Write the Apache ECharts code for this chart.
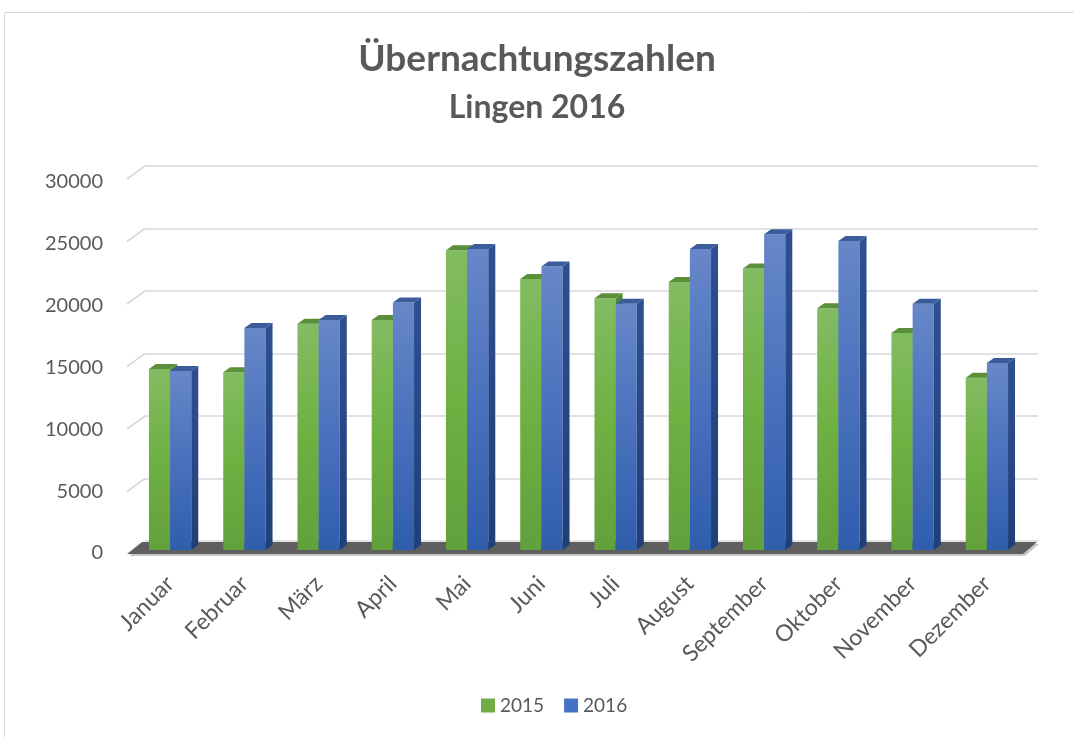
<!DOCTYPE html>
<html>
<head>
<meta charset="utf-8">
<script src="https://cdn.jsdelivr.net/npm/echarts@6/dist/echarts.min.js"></script>
<style>html,body{margin:0;padding:0;background:#fff;}#c{width:1074px;height:737px;}</style>
</head>
<body>
<div id="c"></div>
<script>
const months = ['Januar','Februar','März','April','Mai','Juni','Juli','August','September','Oktober','November','Dezember'];
const values2015 = [14550, 14300, 18200, 18500, 24100, 21800, 20250, 21550, 22650, 19450, 17450, 13850];
const values2016 = [14400, 17850, 18500, 19900, 24200, 22800, 19800, 24200, 25400, 24850, 19800, 15050];
const yTicks = [0, 5000, 10000, 15000, 20000, 25000, 30000];
const seriesNames = ['2015', '2016'];

const chart = echarts.init(document.getElementById('c'));
const txt = '#595959';
const FONT = 'Lato, "Open Sans", sans-serif';

const palette = {
  '2015': {front: ['#82bc62', '#6fb043', '#62a03c'], side: ['#55863a', '#4a772f'], top: '#5b8f3a'},
  '2016': {front: ['#6787c8', '#4a71bd', '#2f5ead'], side: ['#2f5090', '#1f3f78'], top: '#3a5c9a'}
};

function barRender(name, offsetSign) {
  return function (params, api) {
    const i = api.value(0), v = api.value(1);
    const top = api.coord([i, v]);
    const bot = api.coord([i, 0]);
    const band = api.size([1, 0])[0];
    const w = band * 0.285;
    const x0 = offsetSign < 0 ? top[0] - w : top[0];
    const x1 = x0 + w;
    const yT = top[1], yB = bot[1];
    const dx = 7, dy = 5;
    const p = palette[name];
    return {
      type: 'group',
      children: [
        {type: 'rect', shape: {x: x0, y: yT, width: w, height: yB - yT},
          style: {fill: new echarts.graphic.LinearGradient(0, 0, 0, 1, [
            {offset: 0, color: p.front[0]}, {offset: 0.5, color: p.front[1]}, {offset: 1, color: p.front[2]}])}},
        {type: 'polygon', shape: {points: [[x1, yT], [x1 + dx, yT - dy], [x1 + dx, yB - dy], [x1, yB]]},
          style: {fill: new echarts.graphic.LinearGradient(0, 0, 0, 1, [
            {offset: 0, color: p.side[0]}, {offset: 1, color: p.side[1]}])}},
        {type: 'polygon', shape: {points: [[x0, yT], [x1, yT], [x1 + dx, yT - dy], [x0 + dx, yT - dy]]},
          style: {fill: p.top}}
      ]
    };
  };
}

const option = {
  backgroundColor: '#fff',
  animation: false,
  title: [
    {text: 'Übernachtungszahlen', left: 'center', top: 36, padding: [5, 5, 5, 25],
      textStyle: {fontFamily: FONT, fontWeight: 'bold', fontSize: 37, color: txt}},
    {text: 'Lingen 2016', left: 'center', top: 87, padding: [5, 5, 5, 25],
      textStyle: {fontFamily: FONT, fontWeight: 'bold', fontSize: 32, color: txt}}
  ],
  legend: {
    data: seriesNames, top: 691, left: 476, icon: 'rect', itemWidth: 14, itemHeight: 14, itemGap: 20, itemStyle: {borderWidth: 0},
    textStyle: {fontFamily: FONT, fontSize: 19, color: txt}
  },
  graphic: [
    {type: 'rect', shape: {x: 4.5, y: 12.5, width: 1090, height: 740}, style: {fill: 'none', stroke: '#d9d9d9', lineWidth: 1}, z: -10}
  ],
  grid: [
    {left: 133, right: 50, top: 177, bottom: 187},
    {left: 145, right: 36, top: 166, bottom: 196},
    {left: 110, width: 10, top: 182, bottom: 184}
  ],
  xAxis: [
    {type: 'category', gridIndex: 0, data: months,
      axisLine: {show: false}, axisTick: {show: false},
      axisLabel: {rotate: 45, margin: 30, fontFamily: FONT, fontSize: 23, color: txt, interval: 0}},
    {type: 'category', gridIndex: 1, data: months, show: false},
    {type: 'category', gridIndex: 2, data: months, show: false}
  ],
  yAxis: [
    {type: 'value', gridIndex: 0, min: 0, max: 30000, interval: 5000, show: false, splitLine: {show: false}},
    {type: 'value', gridIndex: 1, min: 0, max: 30000, interval: 5000,
      axisLine: {show: false}, axisTick: {show: false}, axisLabel: {show: false},
      splitLine: {show: true, lineStyle: {color: '#d9d9d9', width: 1.6}}},
    {type: 'value', gridIndex: 2, min: 0, max: 30000, interval: 5000,
      axisLine: {show: false}, axisTick: {show: false}, splitLine: {show: false},
      axisLabel: {margin: 7, fontFamily: FONT, fontSize: 20, color: txt, formatter: v => String(v)}}
  ],
  series: [
    {
      type: 'custom', name: 'sidewall', xAxisIndex: 1, yAxisIndex: 1, silent: true, z: 1,
      data: yTicks.slice(1).map(v => [0, v]),
      renderItem: function (params, api) {
        const cs = params.coordSys;
        const y = api.coord([0, api.value(1)])[1];
        return {type: 'line', shape: {x1: cs.x, y1: y, x2: cs.x - 18, y2: y + 13},
          style: {stroke: '#d9d9d9', lineWidth: 1.6}};
      }
    },
    {
      type: 'custom', name: 'floor', xAxisIndex: 0, yAxisIndex: 0, silent: true, z: 2,
      data: [[0, 0]],
      renderItem: function (params, api) {
        const cs = params.coordSys;
        const y0 = api.coord([0, 0])[1];
        return {
          type: 'group', children: [
            {type: 'polygon', shape: {points: [[cs.x - 4, y0 + 6], [cs.x + cs.width + 1, y0 + 6], [cs.x + cs.width + 15, y0 - 6], [cs.x + 11, y0 - 6]]},
              style: {fill: '#c8c8c8'}},
            {type: 'polygon', shape: {points: [[cs.x - 6, y0 + 4], [cs.x + cs.width - 1, y0 + 4], [cs.x + cs.width + 13, y0 - 8], [cs.x + 9, y0 - 8]]},
              style: {fill: '#5f5f5f'}}
          ]
        };
      }
    },
    {
      type: 'custom', name: '2015', xAxisIndex: 0, yAxisIndex: 0, z: 3,
      itemStyle: {color: '#70AD47'},
      data: values2015.map((v, i) => [i, v]),
      encode: {x: 0, y: 1},
      renderItem: barRender('2015', -1)
    },
    {
      type: 'custom', name: '2016', xAxisIndex: 0, yAxisIndex: 0, z: 4,
      itemStyle: {color: '#4472C4'},
      data: values2016.map((v, i) => [i, v]),
      encode: {x: 0, y: 1},
      renderItem: barRender('2016', 1)
    }
  ]
};
chart.setOption(option);
</script>
</body>
</html>
